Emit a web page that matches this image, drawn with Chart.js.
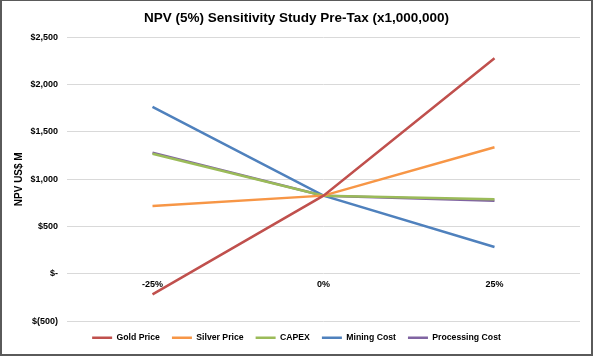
<!DOCTYPE html>
<html><head><meta charset="utf-8">
<script src="https://cdn.jsdelivr.net/npm/chart.js@4/dist/chart.umd.min.js"></script>
<style>
html,body{margin:0;padding:0;background:#fff;}
#wrap{position:relative;width:593px;height:356px;}
#c{position:absolute;left:0;top:0;}
#frame{position:absolute;left:0;top:0;width:593px;height:356px;box-sizing:border-box;border:2px solid #5a5a5a;border-top-width:1px;pointer-events:none;}
</style></head>
<body><div id="wrap"><canvas id="c" width="593" height="356"></canvas><div id="frame"></div></div>
<script>
const categories = ["-25%", "0%", "25%"];
const goldPrice = [-215, 827, 2278];
const silverPrice = [718, 827, 1338];
const capex = [1270, 827, 790];
const miningCost = [1764, 827, 285];
const processingCost = [1281, 827, 774];
const yTicks = [-500, 0, 500, 1000, 1500, 2000, 2500];

function fmt(v){
  if (v === 0) return "$-";
  const s = Math.abs(v).toLocaleString("en-US");
  return v < 0 ? "$(" + s + ")" : "$" + s;
}
const ds = (label, data, color) => ({label, data, borderColor: color, backgroundColor: color,
  borderWidth: 2.5, pointRadius: 0, pointStyle: 'line', tension: 0, fill: false});

new Chart(document.getElementById('c'), {
  type: 'line',
  data: {
    labels: categories,
    datasets: [
      ds('Gold Price', goldPrice, '#C0504D'),
      ds('Silver Price', silverPrice, '#F79646'),
      ds('CAPEX', capex, '#9BBB59'),
      ds('Mining Cost', miningCost, '#4F81BD'),
      ds('Processing Cost', processingCost, '#8064A2')
    ]
  },
  options: {
    responsive: false,
    animation: false,
    layout: {padding: {left: 13, right: 13, top: 0, bottom: 4}},
    plugins: {
      title: {display: true, text: 'NPV (5%) Sensitivity Study Pre-Tax (x1,000,000)',
        color: '#000', font: {family: 'Liberation Sans, Arial', size: 13.5, weight: 'bold'},
        padding: {top: 10, bottom: 11}},
      legend: {position: 'bottom',
        labels: {usePointStyle: true, pointStyleWidth: 20, color: '#000', padding: 12,
          font: {family: 'Liberation Sans, Arial', size: 8.7, weight: 'bold'}}},
      tooltip: {enabled: false}
    },
    scales: {
      x: {position: {y: 0}, offset: true,
        grid: {display: false, drawTicks: false}, border: {display: false},
        ticks: {color: '#000', padding: 5, maxRotation: 0,
          font: {family: 'Liberation Sans, Arial', size: 9, weight: 'bold'}}},
      y: {min: -500, max: 2500,
        afterBuildTicks: s => { s.ticks = yTicks.map(v => ({value: v})); },
        afterFit: s => { s.width = 54; },
        grid: {color: '#D9D9D9', lineWidth: 1, drawTicks: false}, border: {display: false},
        ticks: {color: '#000', padding: 9, callback: v => fmt(v),
          font: {family: 'Liberation Sans, Arial', size: 9, weight: 'bold'}},
        title: {display: true, text: 'NPV US$ M', color: '#000', padding: {top: 0, bottom: 0},
          font: {family: 'Liberation Sans, Arial', size: 10, weight: 'bold'}}}
    }
  }
});
</script></body></html>
